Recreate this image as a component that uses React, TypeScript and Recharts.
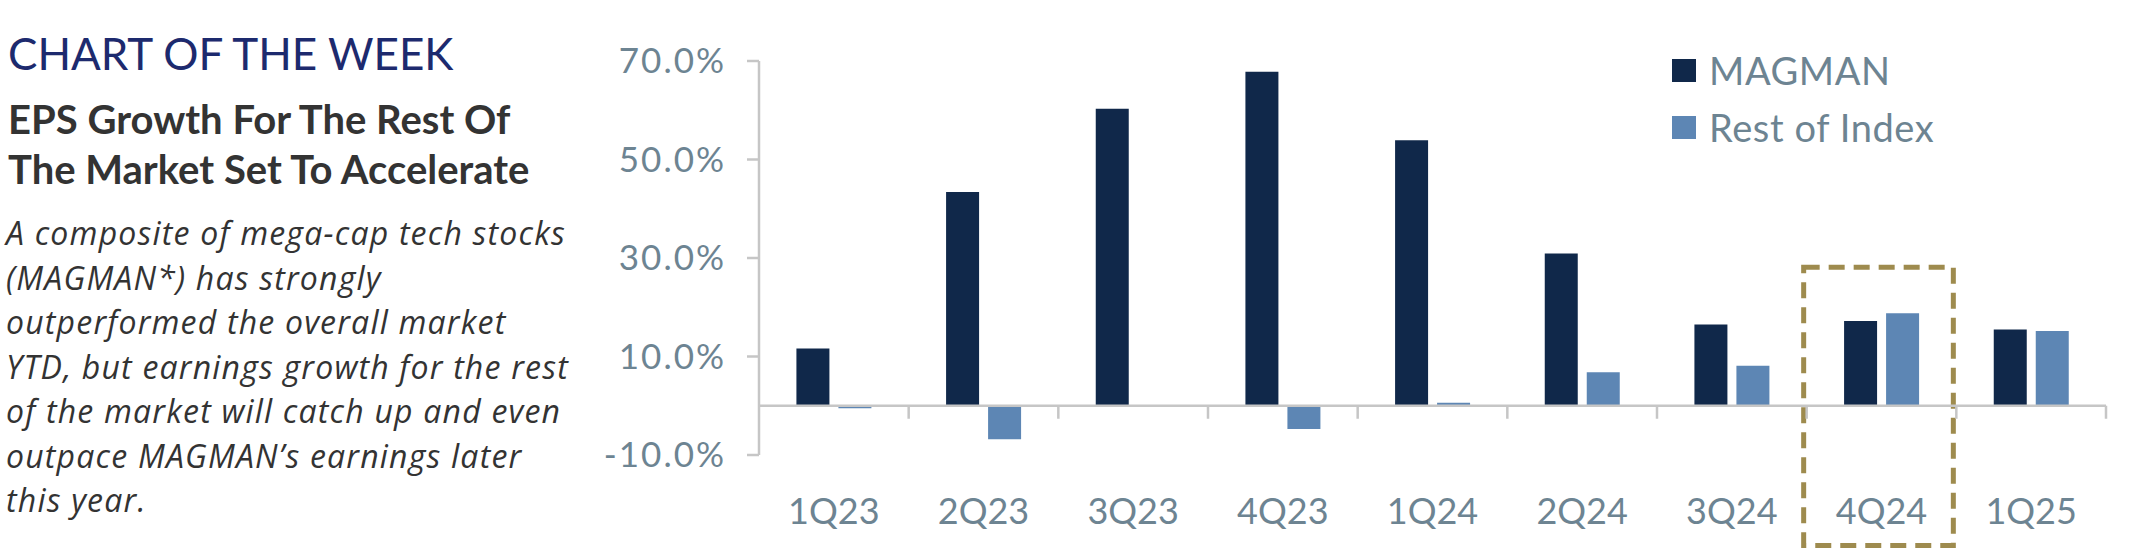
import { BarChart, Bar, XAxis, YAxis, ReferenceLine, ReferenceArea, Legend } from "recharts";

const quarters = ["1Q23", "2Q23", "3Q23", "4Q23", "1Q24", "2Q24", "3Q24", "4Q24", "1Q25"];
const magman = [11.6, 43.4, 60.3, 67.8, 53.9, 30.9, 16.5, 17.2, 15.5];
const restOfIndex = [-0.5, -6.8, 0, -4.7, 0.6, 6.8, 8.1, 18.8, 15.2];
const yTicks = [-10, 10, 30, 50, 70];
const highlight = "4Q24";

const titleText = "CHART OF THE WEEK";
const subtitleLines = ["EPS Growth For The Rest Of", "The Market Set To Accelerate"];
const bodyLines = [
  "A composite of mega-cap tech stocks",
  "(MAGMAN*) has strongly",
  "outperformed the overall market",
  "YTD, but earnings growth for the rest",
  "of the market will catch up and even",
  "outpace MAGMAN\u2019s earnings later",
  "this year.",
];

const data = quarters.map((q, i) => ({
  quarter: q,
  MAGMAN: magman[i],
  "Rest of Index": restOfIndex[i],
}));

const W = 2130;
const H = 552;
const MARGIN = { top: 61, right: 24, bottom: 7, left: 560 };
const Y_AXIS_W = 199;
const X_AXIS_H = 90;
const Y_MIN = -10;
const Y_MAX = 70;
const PLOT_H = H - MARGIN.top - MARGIN.bottom - X_AXIS_H;
const PLOT_W = W - MARGIN.left - MARGIN.right - Y_AXIS_W;
const BAND = PLOT_W / quarters.length;
const ZERO_Y = MARGIN.top + ((Y_MAX - 0) / (Y_MAX - Y_MIN)) * PLOT_H;
const PLOT_BOTTOM = MARGIN.top + PLOT_H;

const FONT = "Lato, 'Noto Sans', sans-serif";
const BODY_FONT = "'Open Sans', 'Noto Sans', sans-serif";
const AXIS = "#c6c6c6";
const LABEL = "#6d8492";
const NAVY = "#10284a";
const LIGHT = "#5d86b4";
const GOLD = "#9e8b4e";

function QuarterTick(props: any) {
  const { x, payload } = props;
  const right = x + BAND / 2;
  return (
    <g>
      <line x1={right} y1={ZERO_Y} x2={right} y2={ZERO_Y + 13} stroke={AXIS} strokeWidth={2.5} />
      <text x={x} y={PLOT_BOTTOM + 69} textAnchor="middle" fill={LABEL} fontSize={36} fontFamily={FONT}>
        {payload.value}
      </text>
    </g>
  );
}

function renderLegend(props: any) {
  const { payload } = props;
  return (
    <div>
      {payload.map((e: any) => (
        <div key={e.value} style={{ display: "flex", alignItems: "center", height: 57 }}>
          <span style={{ width: 24, height: 23, background: e.color, marginRight: 13, display: "inline-block" }} />
          <span style={{ fontSize: 38, color: LABEL, fontFamily: FONT, lineHeight: "57px", letterSpacing: 0.6 }}>
            {e.value}
          </span>
        </div>
      ))}
    </div>
  );
}

function HighlightBox(p: any) {
  return (
    <rect
      x={p.x - 3}
      y={p.y}
      width={p.width}
      height={p.height}
      fill="none"
      stroke={GOLD}
      strokeWidth={5}
      strokeDasharray="16 9"
    />
  );
}

export default function App() {
  return (
    <div style={{ position: "absolute", left: 0, top: 0, width: W, height: H, background: "#fff" }}>
      <svg width={600} height={H} style={{ position: "absolute", left: 0, top: 0 }}>
        <text x={8} y={70} fontSize={44} fill="#1d2a6e" fontFamily={FONT}>
          {titleText}
        </text>
        {subtitleLines.map((l, i) => (
          <text key={l} x={8} y={134 + i * 50} fontSize={40} fontWeight={700} fill="#333" fontFamily={FONT}>
            {l}
          </text>
        ))}
        {bodyLines.map((l, i) => (
          <text
            key={l}
            x={6}
            y={245 + i * 44.5}
            fontSize={32}
            fontStyle="italic"
            fill="#333"
            fontFamily={BODY_FONT}
            letterSpacing={1.2}
          >
            {l}
          </text>
        ))}
      </svg>
      <div style={{ position: "absolute", left: 0, top: 0 }}>
        <BarChart width={W} height={H} data={data} margin={MARGIN} barCategoryGap="25%" barGap={9}>
          <YAxis
            width={Y_AXIS_W}
            domain={[Y_MIN, Y_MAX]}
            ticks={yTicks}
            interval={0}
            tickFormatter={(v: number) => `${v.toFixed(1)}%`}
            axisLine={{ stroke: AXIS, strokeWidth: 2.5 }}
            tickLine={{ stroke: AXIS, strokeWidth: 2.5 }}
            tickSize={12}
            tickMargin={21}
            tick={{ fill: LABEL, fontSize: 35, fontFamily: FONT, letterSpacing: 2 }}
          />
          <XAxis
            dataKey="quarter"
            height={X_AXIS_H}
            axisLine={false}
            tickLine={false}
            interval={0}
            tick={(props: any) => <QuarterTick {...props} />}
          />
          <Legend
            layout="vertical"
            align="center"
            verticalAlign="middle"
            content={renderLegend}
            wrapperStyle={{ left: 1672, top: 42, width: 400, height: "auto" }}
          />
          <Bar dataKey="MAGMAN" fill={NAVY} isAnimationActive={false} />
          <Bar dataKey="Rest of Index" fill={LIGHT} isAnimationActive={false} />
          <ReferenceLine y={0} stroke={AXIS} strokeWidth={2.5} />
          <ReferenceArea
            x1={highlight}
            x2={highlight}
            y1={-28.4}
            y2={28.1}
            ifOverflow="visible"
            shape={(p: any) => <HighlightBox {...p} />}
          />
        </BarChart>
      </div>
    </div>
  );
}
